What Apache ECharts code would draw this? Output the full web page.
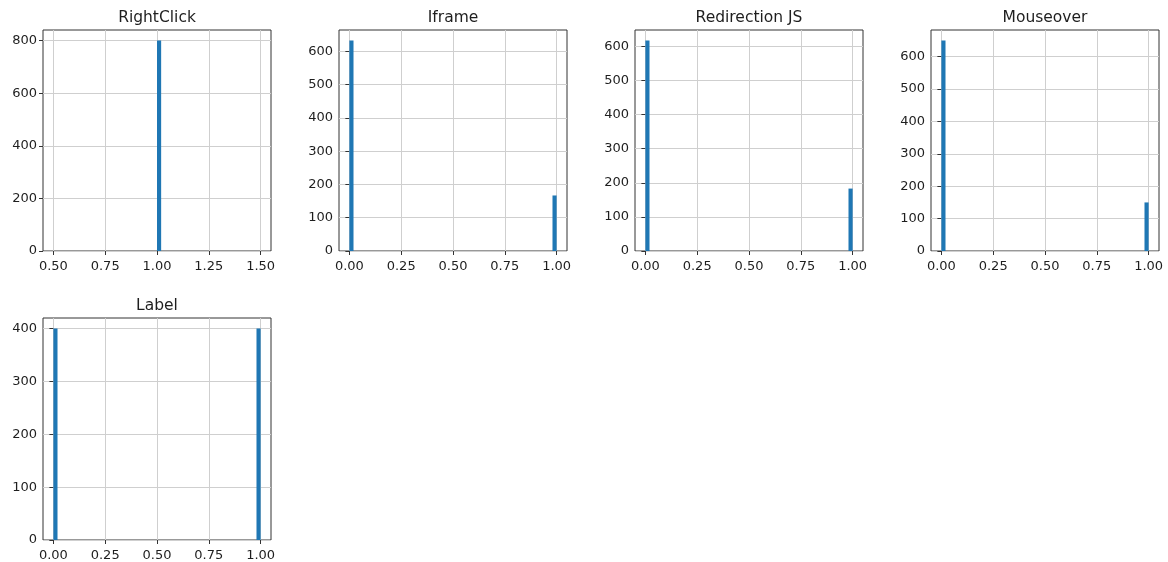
<!DOCTYPE html>
<html>
<head>
<meta charset="utf-8">
<script src="https://cdn.jsdelivr.net/npm/echarts@6/dist/echarts.min.js"></script>
<style>
  html, body { margin: 0; padding: 0; background: #ffffff; }
  #chart { width: 1168px; height: 562px; }
</style>
</head>
<body>
<div id="chart"></div>
<script>
// ---- Data ----
const titles = ['RightClick', 'Iframe', 'Redirection JS', 'Mouseover', 'Label'];

// Histogram bin ranges (50 bins); each bin: [binStart, binEnd, count]
const rightClickRange = [0.5, 1.5];
const binaryRange = [0, 1];
const rightClickBins = [[1.0, 1.02, 800]];
const iframeBins = [[0.0, 0.02, 633], [0.98, 1.0, 167]];
const redirectionBins = [[0.0, 0.02, 617], [0.98, 1.0, 183]];
const mouseoverBins = [[0.0, 0.02, 650], [0.98, 1.0, 150]];
const labelBins = [[0.0, 0.02, 400], [0.98, 1.0, 400]];

// Tick labels
const xTicksRightClick = [0.5, 0.75, 1.0, 1.25, 1.5];
const xTicksBinary = [0.0, 0.25, 0.5, 0.75, 1.0];
const yTicksRightClick = [0, 200, 400, 600, 800];
const yTicksIframe = [0, 100, 200, 300, 400, 500, 600];
const yTicksRedirection = [0, 100, 200, 300, 400, 500, 600];
const yTicksMouseover = [0, 100, 200, 300, 400, 500, 600];
const yTicksLabel = [0, 100, 200, 300, 400];

// ---- Layout ----
const panels = [
  { title: titles[0], bins: rightClickBins, range: rightClickRange, xTicks: xTicksRightClick, yTicks: yTicksRightClick, left: 43,  top: 30,  width: 228, height: 221 },
  { title: titles[1], bins: iframeBins, range: binaryRange, xTicks: xTicksBinary, yTicks: yTicksIframe, left: 339, top: 30, width: 228, height: 221 },
  { title: titles[2], bins: redirectionBins, range: binaryRange, xTicks: xTicksBinary, yTicks: yTicksRedirection, left: 635, top: 30, width: 228, height: 221 },
  { title: titles[3], bins: mouseoverBins, range: binaryRange, xTicks: xTicksBinary, yTicks: yTicksMouseover, left: 931, top: 30, width: 228, height: 221 },
  { title: titles[4], bins: labelBins, range: binaryRange, xTicks: xTicksBinary, yTicks: yTicksLabel, left: 43, top: 318, width: 228, height: 222 }
];

const FONT = 'DejaVu Sans';
const TEXT = '#1e1e1e';
const FRAME = '#333333';
const GRIDLINE = '#cfcfcf';
const BAR = '#1f77b4';

const grid = [], xAxis = [], yAxis = [], series = [], title = [];

panels.forEach((p, i) => {
  const span = p.range[1] - p.range[0];
  const maxCount = Math.max(...p.bins.map(b => b[2]));
  grid.push({
    left: p.left, top: p.top, width: p.width, height: p.height,
    show: true, borderColor: FRAME, borderWidth: 1, backgroundColor: 'transparent',
    containLabel: false, outerBoundsMode: 'none'
  });
  xAxis.push({
    type: 'value', gridIndex: i,
    min: p.range[0] - 0.05 * span, max: p.range[1] + 0.05 * span,
    axisLine: { show: false },
    axisTick: { show: true, length: 4, lineStyle: { color: FRAME, width: 1 }, customValues: p.xTicks },
    axisLabel: { show: true, customValues: p.xTicks, margin: 9, color: TEXT, fontFamily: FONT, fontSize: 13,
                 formatter: v => Number(v).toFixed(2) },
    splitLine: { show: true, lineStyle: { color: GRIDLINE, width: 1 } }
  });
  yAxis.push({
    type: 'value', gridIndex: i,
    min: 0, max: maxCount * 1.05,
    axisLine: { show: false },
    axisTick: { show: true, length: 4, lineStyle: { color: FRAME, width: 1 }, customValues: p.yTicks },
    axisLabel: { show: true, customValues: p.yTicks, margin: 6, color: TEXT, fontFamily: FONT, fontSize: 13,
                 formatter: v => String(Math.round(v)) },
    splitLine: { show: true, lineStyle: { color: GRIDLINE, width: 1 } }
  });
  series.push({
    type: 'custom', xAxisIndex: i, yAxisIndex: i,
    encode: { x: [0, 1], y: 2 },
    data: p.bins,
    renderItem: function (params, api) {
      const p0 = api.coord([api.value(0), api.value(2)]);
      const p1 = api.coord([api.value(1), 0]);
      return {
        type: 'rect',
        shape: { x: p0[0], y: p0[1], width: p1[0] - p0[0], height: p1[1] - p0[1] },
        style: { fill: BAR }
      };
    },
    silent: true, animation: false, z: 3
  });
  title.push({
    text: p.title,
    left: p.left + p.width / 2, top: p.top - 20,
    textAlign: 'center', padding: 0,
    textStyle: { fontFamily: FONT, fontSize: 15.5, fontWeight: 'normal', color: TEXT }
  });
});

const chart = echarts.init(document.getElementById('chart'), null, { renderer: 'canvas' });
chart.setOption({
  backgroundColor: '#ffffff',
  animation: false,
  title: title,
  grid: grid,
  xAxis: xAxis,
  yAxis: yAxis,
  series: series
});
</script>
</body>
</html>
